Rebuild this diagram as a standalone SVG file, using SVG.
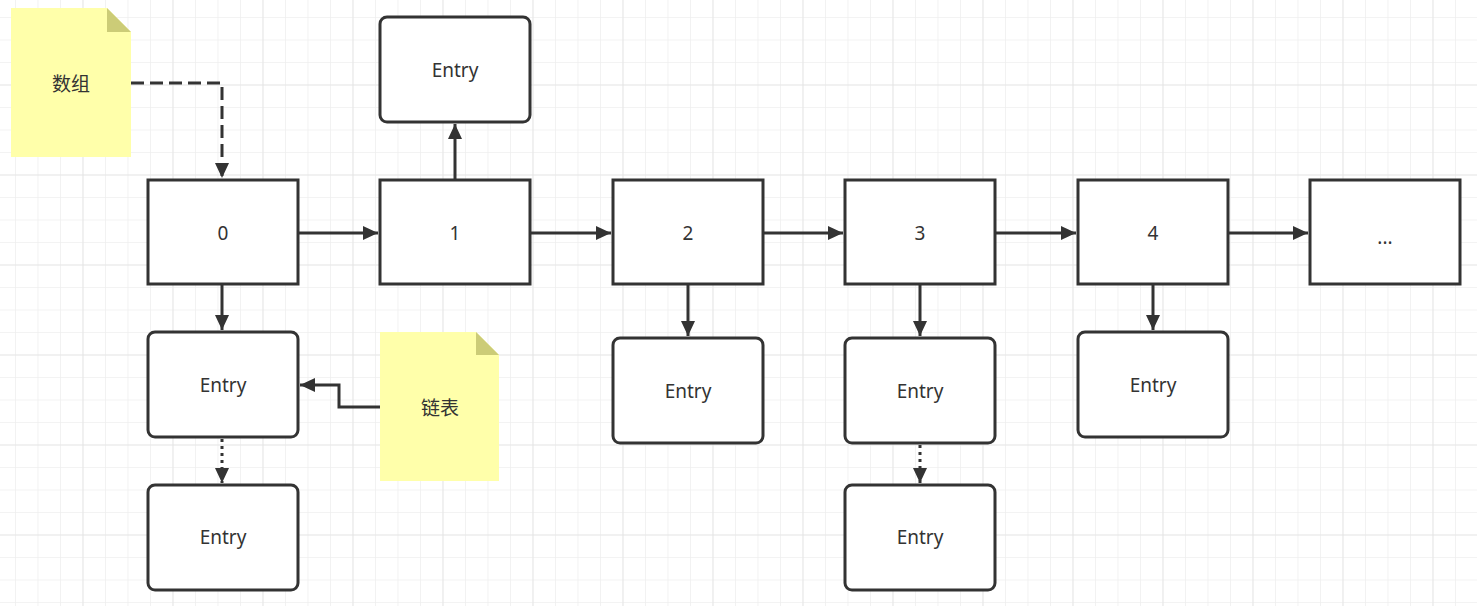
<svg xmlns="http://www.w3.org/2000/svg" width="1477" height="606" viewBox="0 0 1477 606">
<style>
.box{fill:#fff;stroke:#333;stroke-width:3}
.t{font-family:"Noto Sans","Liberation Sans","Noto Sans CJK SC",sans-serif;font-size:19px;fill:#333;text-anchor:middle;dominant-baseline:central}
.c{fill:none;stroke:#333;stroke-width:3}
.note{fill:#ffffaa}
.fold{fill:#cccc77}
</style>
<defs>
<pattern id="minor" patternUnits="userSpaceOnUse" x="15" y="17" width="22.5" height="22.5">
<path d="M0 0V22.5M0 0H22.5" fill="none" stroke="#efefef" stroke-width="1.5"/>
</pattern>
<pattern id="major" patternUnits="userSpaceOnUse" x="82.5" y="84.5" width="90" height="90">
<path d="M0 0V90M0 0H90" fill="none" stroke="#e3e3e3" stroke-width="1.5"/>
</pattern>
<marker id="arr" markerUnits="userSpaceOnUse" markerWidth="16" markerHeight="14" refX="15" refY="7" orient="auto">
<path d="M0 0L15 7L0 14Z" fill="#333"/>
</marker>
</defs>
<rect width="1477" height="606" fill="#fff"/>
<rect width="1477" height="606" fill="url(#minor)"/>
<rect width="1477" height="606" fill="url(#major)"/>

<g id="connectors">
<path class="c" d="M131 83H222V178" stroke-dasharray="13 6" marker-end="url(#arr)"/>
<path class="c" d="M298 233H378" marker-end="url(#arr)"/>
<path class="c" d="M530 233H611" marker-end="url(#arr)"/>
<path class="c" d="M763 233H843" marker-end="url(#arr)"/>
<path class="c" d="M995 233H1076" marker-end="url(#arr)"/>
<path class="c" d="M1228 233H1308" marker-end="url(#arr)"/>
<path class="c" d="M455 180V124" marker-end="url(#arr)"/>
<path class="c" d="M222 284V330" marker-end="url(#arr)"/>
<path class="c" d="M688 284V336" marker-end="url(#arr)"/>
<path class="c" d="M920 284V336" marker-end="url(#arr)"/>
<path class="c" d="M1153 284V330" marker-end="url(#arr)"/>
<path class="c" d="M222 439V483" stroke-dasharray="3 4" marker-end="url(#arr)"/>
<path class="c" d="M920 445V483" stroke-dasharray="3 4" marker-end="url(#arr)"/>
<path class="c" d="M380 407H339V385H300" marker-end="url(#arr)"/>
</g>

<g id="note-array">
<path class="note" d="M11 8H107L131 32V157H11Z"/>
<path class="fold" d="M107 8L131 32H107Z"/>
<text class="t" x="71" y="84">数组</text>
</g>
<g id="note-list">
<path class="note" d="M380 332H476L499 355V481H380Z"/>
<path class="fold" d="M476 332L499 355H476Z"/>
<text class="t" x="440" y="408">链表</text>
</g>

<g id="n0"><rect class="box" x="148" y="180" width="150" height="104"/><text class="t" x="223" y="233">0</text></g>
<g id="n1"><rect class="box" x="380" y="180" width="150" height="104"/><text class="t" x="455" y="233">1</text></g>
<g id="n2"><rect class="box" x="613" y="180" width="150" height="104"/><text class="t" x="688" y="233">2</text></g>
<g id="n3"><rect class="box" x="845" y="180" width="150" height="104"/><text class="t" x="920" y="233">3</text></g>
<g id="n4"><rect class="box" x="1078" y="180" width="150" height="104"/><text class="t" x="1153" y="233">4</text></g>
<g id="n5"><rect class="box" x="1310" y="180" width="150" height="104"/><text class="t" x="1385" y="237" font-size="15">...</text></g>

<g id="e1top"><rect class="box" x="380" y="17" width="150" height="105" rx="7"/><text class="t" x="455" y="70">Entry</text></g>
<g id="e0a"><rect class="box" x="148" y="332" width="150" height="105" rx="7"/><text class="t" x="223" y="385">Entry</text></g>
<g id="e0b"><rect class="box" x="148" y="485" width="150" height="105" rx="7"/><text class="t" x="223" y="537">Entry</text></g>
<g id="e2"><rect class="box" x="613" y="338" width="150" height="105" rx="7"/><text class="t" x="688" y="391">Entry</text></g>
<g id="e3a"><rect class="box" x="845" y="338" width="150" height="105" rx="7"/><text class="t" x="920" y="391">Entry</text></g>
<g id="e3b"><rect class="box" x="845" y="485" width="150" height="105" rx="7"/><text class="t" x="920" y="537">Entry</text></g>
<g id="e4"><rect class="box" x="1078" y="332" width="150" height="105" rx="7"/><text class="t" x="1153" y="385">Entry</text></g>
</svg>
